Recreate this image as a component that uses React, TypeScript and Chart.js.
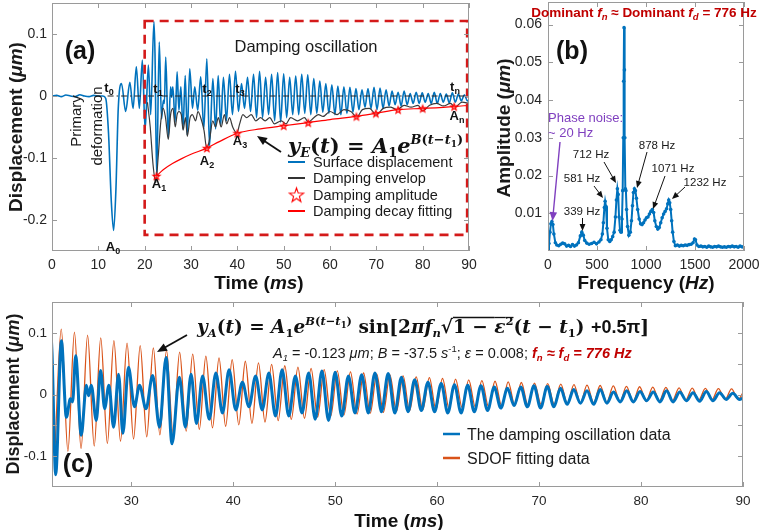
import React, { useEffect, useRef } from 'react';
import { Chart, registerables } from 'chart.js';
Chart.register(...registerables);

// ---------------- Panel (a) data ----------------
const preTime = [0, 1, 2, 3, 4, 5, 6, 7, 8, 9, 10, 11, 11.6, 12.2, 12.8, 13.3, 13.8, 14.3, 15.0, 15.9, 16.8, 17.5, 18.2, 18.85, 19.5];
const preValue = [0, 0.001, -0.001, 0.0015, 0, -0.001, 0.002, 0, -0.001, 0.001, 0, 0, -0.004, -0.06, -0.17, -0.217, -0.15, -0.02, 0.02, -0.025, 0.022, -0.02, 0.047, -0.02, 0.058];

const oscTime = [
  20.1, 20.8, 21.3, 22.0, 22.23, 22.59, 23.15, 23.64, 24.03, 24.25,
  24.55, 25.10, 25.60, 25.82, 26.08, 26.57, 27.00, 27.39, 27.81, 28.27,
  28.76, 29.18, 29.73, 30.32, 30.81, 31.45, 32.10, 32.77, 33.42, 34.00,
  34.72, 35.31, 35.87, 36.40, 37.00, 37.65, 38.30, 38.95, 39.60, 40.25,
  40.90, 41.55, 42.20, 42.85, 43.50, 44.15, 44.80, 45.45, 46.10, 46.75,
  47.40, 48.05, 48.70, 49.35, 50.00, 50.65, 51.30, 51.95, 52.60, 53.25,
  53.90, 54.55, 55.20, 55.85, 56.50, 57.15, 57.80, 58.45, 59.10, 59.75,
  60.40, 61.05, 61.70, 62.35, 63.00, 63.65, 64.30, 64.95, 65.60, 66.25,
  66.90, 67.55, 68.20, 68.85, 69.50, 70.15, 70.80, 71.45, 72.10, 72.75,
  73.40, 74.05, 74.70, 75.35, 76.00, 76.65, 77.30, 77.95, 78.60, 79.25,
  79.90, 80.55, 81.20, 81.85, 82.50, 83.15, 83.80, 84.45, 85.10, 85.75,
  86.40, 87.05, 87.70, 88.35, 89.00, 89.65, 90.00,
];
const oscValue = [
  -0.055, 0.050, -0.030, 0.120, 0.068, -0.130, 0.087, -0.037, -0.007, -0.012,
  0.063, -0.066, 0.015, -0.002, 0.015, -0.042, 0.039, -0.023, 0.015, -0.053,
  0.033, -0.063, 0.044, -0.020, 0.015, -0.023, 0.031, -0.053, 0.060, -0.080,
  0.028, -0.053, 0.033, -0.047, 0.030, -0.040, 0.035, -0.030, 0.040, -0.025,
  0.020, -0.020, 0.030, -0.025, 0.035, -0.035, 0.040, -0.035, 0.030, -0.030,
  0.035, -0.040, 0.038, -0.042, 0.036, -0.035, 0.030, -0.030, 0.032, -0.030,
  0.035, -0.028, 0.034, -0.030, 0.028, -0.028, 0.024, -0.026, 0.020, -0.028,
  0.018, -0.030, 0.016, -0.030, 0.015, -0.028, 0.014, -0.026, 0.012, -0.022,
  0.010, -0.018, 0.012, -0.020, 0.014, -0.022, 0.013, -0.020, 0.010, -0.016,
  0.008, -0.014, 0.006, -0.016, 0.008, -0.014, 0.004, -0.012, 0.006, -0.012,
  0.005, -0.010, 0.004, -0.012, 0.006, -0.012, 0.004, -0.010, 0.003, -0.011,
  0.005, -0.010, 0.003, -0.008, 0.002, -0.008, -0.006,
];

const envTime = [
  20.6, 21.2, 21.8, 22.4, 22.9, 23.5, 24.0, 24.5, 25.1, 25.6,
  26.1, 26.6, 27.0, 27.4, 27.9, 28.3, 28.8, 29.2, 29.8, 30.3,
  31.0, 31.5, 32.1, 32.8, 33.4, 34.0, 34.7, 35.3, 35.9, 36.5,
  37.2, 37.7, 38.3, 39.0, 39.9, 40.5, 41.2, 42.0, 43.0, 44.0,
  45.0, 46.0, 47.0, 48.0, 49.5, 50.5, 51.5, 53.0, 54.5, 55.3,
  56.5, 57.5, 58.5, 60.0, 61.5, 63.0, 64.5, 65.8, 67.0, 68.5,
  70.0, 71.5, 73.0, 74.5, 76.0, 77.5, 79.0, 80.0, 81.5, 83.0,
  84.5, 86.0, 87.0, 88.5, 90.0,
];
const envValue = [
  -0.01, -0.05, -0.11, -0.14, -0.10, -0.04, -0.02, -0.035, -0.07, -0.03,
  -0.02, -0.05, -0.03, -0.025, -0.03, -0.055, -0.035, -0.065, -0.035, -0.03,
  -0.04, -0.025, -0.035, -0.055, -0.085, -0.07, -0.04, -0.05, -0.035, -0.05,
  -0.03, -0.045, -0.035, -0.05, -0.06, -0.045, -0.03, -0.035, -0.03, -0.04,
  -0.035, -0.04, -0.035, -0.045, -0.04, -0.045, -0.035, -0.04, -0.035, -0.042,
  -0.035, -0.03, -0.033, -0.025, -0.03, -0.022, -0.025, -0.034, -0.022, -0.02,
  -0.03, -0.02, -0.018, -0.022, -0.015, -0.018, -0.015, -0.024, -0.015, -0.012,
  -0.016, -0.012, -0.018, -0.01, -0.012,
];

const ampTime = [22.55, 33.4, 40.0, 50.0, 55.3, 65.7, 69.9, 74.7, 80.0, 86.8];
const ampValue = [-0.129, -0.084, -0.060, -0.048, -0.043, -0.033, -0.028, -0.022, -0.020, -0.017];

const fitTime = [22.55, 24, 26, 28, 30, 33.4, 36, 40, 45, 50, 55.3, 60, 65.7, 69.9, 74.7, 80, 86.8, 90];
const fitValue = [-0.129, -0.119, -0.109, -0.101, -0.094, -0.084, -0.074, -0.060, -0.053, -0.048, -0.043, -0.038, -0.033, -0.028, -0.022, -0.020, -0.017, -0.015];

const zeroTime = [12, 90];
const zeroValue = [0, 0];

const regionTime = [20, 89.6];
const regionValue = [-0.224, 0.121];

const aXTicks = [0, 10, 20, 30, 40, 50, 60, 70, 80, 90];
const aXLabels = ['0', '10', '20', '30', '40', '50', '60', '70', '80', '90'];
const aYTicks = [-0.2, -0.1, 0, 0.1];
const aYLabels = ['-0.2', '-0.1', '0', '0.1'];

// ---------------- Panel (b) data ----------------
const freq = [
  0, 10, 20, 30, 40, 50, 60, 75, 90, 110,
  130, 150, 170, 190, 210, 230, 250, 270, 290, 310,
  330, 345, 360, 375, 395, 420, 445, 470, 495, 520,
  540, 555, 565, 575, 583, 592, 602, 615, 630, 645,
  660, 675, 688, 698, 708, 716, 725, 735, 745, 755,
  762, 768, 772, 776, 780, 784, 789, 795, 802, 812,
  825, 840, 852, 862, 872, 882, 892, 902, 915, 930,
  945, 960, 975, 990, 1005, 1020, 1035, 1050, 1065, 1078,
  1090, 1105, 1120, 1135, 1150, 1165, 1180, 1195, 1210, 1222,
  1232, 1242, 1252, 1262, 1272, 1285, 1300, 1320, 1340, 1360,
  1380, 1400, 1420, 1440, 1460, 1480, 1495, 1505, 1520, 1540,
  1560, 1580, 1600, 1620, 1640, 1660, 1680, 1700, 1720, 1740,
  1760, 1780, 1800, 1820, 1840, 1860, 1880, 1900, 1920, 1940,
  1960, 1980, 2000,
];
const amplitude = [
  0.0004, 0.002, 0.005, 0.0072, 0.0078, 0.0070, 0.0045, 0.0022, 0.0016, 0.0014,
  0.0018, 0.0021, 0.0019, 0.0013, 0.0015, 0.0012, 0.0017, 0.0013, 0.0016, 0.0022,
  0.0040, 0.0050, 0.0042, 0.0028, 0.0021, 0.0018, 0.0020, 0.0023, 0.0019, 0.0024,
  0.0030, 0.0045, 0.0075, 0.0115, 0.0132, 0.0118, 0.0060, 0.0030, 0.0025, 0.0030,
  0.0038, 0.0050, 0.0090, 0.0135, 0.0165, 0.0150, 0.0090, 0.0055, 0.0050, 0.0085,
  0.0160, 0.0300, 0.0450, 0.0592, 0.0480, 0.0300, 0.0165, 0.0160, 0.0110, 0.0065,
  0.0042, 0.0050, 0.0080, 0.0120, 0.0155, 0.0165, 0.0160, 0.0140, 0.0110, 0.0085,
  0.0072, 0.0070, 0.0075, 0.0082, 0.0088, 0.0090, 0.0098, 0.0105, 0.0110, 0.0102,
  0.0080, 0.0065, 0.0058, 0.0062, 0.0075, 0.0088, 0.0098, 0.0105, 0.0112, 0.0125,
  0.0135, 0.0128, 0.0110, 0.0080, 0.0050, 0.0025, 0.0014, 0.0016, 0.0013, 0.0015,
  0.0014, 0.0016, 0.0015, 0.0017, 0.0018, 0.0022, 0.0032, 0.0030, 0.0016, 0.0012,
  0.0013, 0.0011, 0.0012, 0.0010, 0.0013, 0.0011, 0.0010, 0.0012, 0.0011, 0.0013,
  0.0011, 0.0010, 0.0011, 0.0010, 0.0012, 0.0011, 0.0013, 0.0011, 0.0012, 0.0010,
  0.0013, 0.0011, 0.0010,
];
const bXTicks = [0, 500, 1000, 1500, 2000];
const bXLabels = ['0', '500', '1000', '1500', '2000'];
const bYTicks = [0.01, 0.02, 0.03, 0.04, 0.05, 0.06];
const bYLabels = ['0.01', '0.02', '0.03', '0.04', '0.05', '0.06'];

// ---------------- Panel (c) data ----------------
const sdofTime = [
  22.50, 23.14, 23.79, 24.43, 25.08, 25.72, 26.37, 27.01, 27.66, 28.30,
  28.95, 29.59, 30.23, 30.88, 31.52, 32.17, 32.81, 33.46, 34.10, 34.75,
  35.39, 36.03, 36.68, 37.32, 37.97, 38.61, 39.26, 39.90, 40.55, 41.19,
  41.84, 42.48, 43.12, 43.77, 44.41, 45.06, 45.70, 46.35, 46.99, 47.64,
  48.28, 48.92, 49.57, 50.21, 50.86, 51.50, 52.15, 52.79, 53.44, 54.08,
  54.73, 55.37, 56.01, 56.66, 57.30, 57.95, 58.59, 59.24, 59.88, 60.53,
  61.17, 61.81, 62.46, 63.10, 63.75, 64.39, 65.04, 65.68, 66.33, 66.97,
  67.62, 68.26, 68.90, 69.55, 70.19, 70.84, 71.48, 72.13, 72.77, 73.42,
  74.06, 74.70, 75.35, 75.99, 76.64, 77.28, 77.93, 78.57, 79.22, 79.86,
  80.51, 81.15, 81.79, 82.44, 83.08, 83.73, 84.37, 85.02, 85.66, 86.31,
  86.95, 87.59, 88.24, 88.88, 89.53, 90.17,
];
const sdofValue = [
  -0.096, 0.106, -0.092, 0.101, -0.0877, 0.0962, -0.0835, 0.0917, -0.0796, 0.0874,
  -0.0758, 0.0832, -0.0722, 0.0793, -0.0688, 0.0756, -0.0656, 0.0720, -0.0625, 0.0686,
  -0.0595, 0.0654, -0.0567, 0.0623, -0.0541, 0.0593, -0.0515, 0.0565, -0.0491, 0.0539,
  -0.0468, 0.0513, -0.0446, 0.0489, -0.0425, 0.0466, -0.0404, 0.0444, -0.0385, 0.0423,
  -0.0367, 0.0403, -0.0350, 0.0384, -0.0333, 0.0366, -0.0318, 0.0349, -0.0303, 0.0332,
  -0.0288, 0.0317, -0.0275, 0.0302, -0.0262, 0.0287, -0.0249, 0.0274, -0.0238, 0.0261,
  -0.0226, 0.0248, -0.0216, 0.0237, -0.0205, 0.0225, -0.0196, 0.0215, -0.0187, 0.0205,
  -0.0178, 0.0195, -0.0169, 0.0186, -0.0161, 0.0177, -0.0154, 0.0169, -0.0147, 0.0161,
  -0.0140, 0.0153, -0.0133, 0.0146, -0.0127, 0.0139, -0.0121, 0.0132, -0.0115, 0.0126,
  -0.0110, 0.0120, -0.0105, 0.0115, -0.0100, 0.0109, -0.0095, 0.0104, -0.0091, 0.0099,
  -0.0086, 0.0095, -0.0082, 0.0090, -0.0078, 0.0086,
];
const cXTicks = [30, 40, 50, 60, 70, 80, 90];
const cXLabels = ['30', '40', '50', '60', '70', '80', '90'];
const cYTicks = [-0.1, -0.05, 0, 0.05, 0.1];
const cYLabels = ['-0.1', '', '0', '', '0.1'];

// ---------------- styling ----------------
const SANS = '"Liberation Sans", Arial, Helvetica, sans-serif';
const SERIF = '"DejaVu Serif", "Liberation Serif", serif';
const BLUE = '#0072BD';
const ORANGE = '#D95319';
const RED = '#FF0000';
const DARKRED = '#C00000';
const FRAME = '#9a9a9a';

const sf = (size: number, style = '') => `${style} ${size}px ${SANS}`.trim();
const rf = (size: number, style = '') => `${style} ${size}px ${SERIF}`.trim();

type Seg = { t: string; f: string; dy?: number; c?: string; over?: number };

function drawRich(ctx: any, segs: Seg[], x: number, baseline: number, align = 'left', color = '#1a1a1a') {
  ctx.save();
  ctx.textBaseline = 'alphabetic';
  ctx.textAlign = 'left';
  const ws = segs.map((s) => { ctx.font = s.f; return ctx.measureText(s.t).width; });
  const total = ws.reduce((a, b) => a + b, 0);
  let cx = align === 'center' ? x - total / 2 : align === 'right' ? x - total : x;
  segs.forEach((s, i) => {
    ctx.font = s.f;
    ctx.fillStyle = s.c || color;
    ctx.fillText(s.t, cx, baseline + (s.dy || 0));
    if (s.over) {
      ctx.strokeStyle = s.c || color;
      ctx.lineWidth = 1.3;
      ctx.beginPath();
      ctx.moveTo(cx, baseline - s.over);
      ctx.lineTo(cx + ws[i], baseline - s.over);
      ctx.stroke();
    }
    cx += ws[i];
  });
  ctx.restore();
}

function drawRotated(ctx: any, segs: Seg[], cx: number, cy: number, shift: number) {
  ctx.save();
  ctx.translate(cx, cy);
  ctx.rotate(-Math.PI / 2);
  drawRich(ctx, segs, 0, shift, 'center');
  ctx.restore();
}

function arrow(ctx: any, x1: number, y1: number, x2: number, y2: number, color: string, lw = 1.3, head = 8) {
  const a = Math.atan2(y2 - y1, x2 - x1);
  ctx.save();
  ctx.strokeStyle = color;
  ctx.fillStyle = color;
  ctx.lineWidth = lw;
  ctx.beginPath();
  ctx.moveTo(x1, y1);
  ctx.lineTo(x2 - Math.cos(a) * head * 0.7, y2 - Math.sin(a) * head * 0.7);
  ctx.stroke();
  const w = head * 0.42;
  ctx.beginPath();
  ctx.moveTo(x2, y2);
  ctx.lineTo(x2 - head * Math.cos(a) + w * Math.sin(a), y2 - head * Math.sin(a) - w * Math.cos(a));
  ctx.lineTo(x2 - head * Math.cos(a) - w * Math.sin(a), y2 - head * Math.sin(a) + w * Math.cos(a));
  ctx.closePath();
  ctx.fill();
  ctx.restore();
}

function frame(chart: any, xt: number[], yt: number[], tick = 5) {
  const { ctx, chartArea: a, scales } = chart;
  ctx.save();
  ctx.strokeStyle = FRAME;
  ctx.lineWidth = 1;
  ctx.strokeRect(a.left + 0.5, a.top + 0.5, a.right - a.left - 1, a.bottom - a.top - 1);
  ctx.beginPath();
  xt.forEach((v) => {
    const p = Math.round(scales.x.getPixelForValue(v)) + 0.5;
    ctx.moveTo(p, a.bottom); ctx.lineTo(p, a.bottom - tick);
    ctx.moveTo(p, a.top); ctx.lineTo(p, a.top + tick);
  });
  yt.forEach((v) => {
    const p = Math.round(scales.y.getPixelForValue(v)) + 0.5;
    ctx.moveTo(a.left, p); ctx.lineTo(a.left + tick, p);
    ctx.moveTo(a.right, p); ctx.lineTo(a.right - tick, p);
  });
  ctx.stroke();
  ctx.restore();
}

function starPath(g: any, cx: number, cy: number, R: number) {
  const r = R * 0.4;
  g.beginPath();
  for (let i = 0; i < 10; i++) {
    const ang = -Math.PI / 2 + (i * Math.PI) / 5;
    const rr = i % 2 ? r : R;
    g.lineTo(cx + rr * Math.cos(ang), cy + rr * Math.sin(ang));
  }
  g.closePath();
}

function makeStar(R: number, fill: string) {
  const c = document.createElement('canvas');
  const s = Math.ceil(R * 2 + 4);
  c.width = s; c.height = s;
  const g = c.getContext('2d')!;
  starPath(g, s / 2, s / 2 + 0.5, R);
  g.fillStyle = fill;
  g.fill();
  g.strokeStyle = RED;
  g.lineWidth = 1.1;
  g.stroke();
  return c;
}

const pts = (xs: number[], ys: number[]) => xs.map((x, i) => ({ x, y: ys[i] }));

function scale(min: number, max: number, ticks: number[], labels: string[], axis: 'x' | 'y', size: number, pad: number, fontSize: number) {
  return {
    type: 'linear',
    min,
    max,
    grid: { display: false, drawTicks: false },
    border: { display: false },
    afterBuildTicks: (s: any) => { s.ticks = ticks.map((v) => ({ value: v })); },
    afterFit: (s: any) => {
      if (axis === 'x') s.height = size; else s.width = size;
      s.paddingTop = 0; s.paddingBottom = 0; s.paddingLeft = 0; s.paddingRight = 0;
    },
    ticks: {
      autoSkip: false,
      maxRotation: 0,
      minRotation: 0,
      padding: pad,
      color: '#262626',
      font: { family: SANS, size: fontSize },
      callback: (v: number) => { const i = ticks.indexOf(v); return i >= 0 ? labels[i] : ''; },
    },
  };
}

const baseOptions = (padding: any, scales: any) => ({
  responsive: false,
  animation: false,
  events: [],
  layout: { padding, autoPadding: false },
  plugins: { legend: { display: false }, tooltip: { enabled: false } },
  elements: { point: { radius: 0 } },
  scales,
});

const titleSegs = (main: string, unit: string, size: number): Seg[] => [
  { t: main + ' (', f: sf(size, 'bold') },
  { t: unit, f: sf(size, 'italic bold') },
  { t: ')', f: sf(size, 'bold') },
];

function subLabel(ctx: any, base: string, sub: string, x: number, y: number) {
  drawRich(ctx, [{ t: base, f: sf(13, 'bold') }, { t: sub, f: sf(9, 'bold'), dy: 3 }], x, y, 'center', '#111');
}

function configA(star: any, starLegend: any) {
  const overlay = {
    id: 'overlayA',
    afterDatasetsDraw(chart: any) {
      const { ctx, scales: { x, y } } = chart;
      ctx.save();
      ctx.strokeStyle = '#D41A1A';
      ctx.lineWidth = 2.6;
      ctx.setLineDash([9, 6]);
      const x0 = x.getPixelForValue(regionTime[0]);
      const x1 = x.getPixelForValue(regionTime[1]);
      const y0 = y.getPixelForValue(regionValue[1]);
      const y1 = y.getPixelForValue(regionValue[0]);
      ctx.strokeRect(x0, y0, x1 - x0, y1 - y0);
      ctx.restore();
    },
    afterDraw(chart: any) {
      const { ctx } = chart;
      frame(chart, aXTicks, aYTicks);
      drawRotated(ctx, titleSegs('Displacement', 'μm', 19), 15, 127, 7);
      drawRich(ctx, titleSegs('Time', 'ms', 19), 259, 289, 'center', '#111');
      drawRich(ctx, [{ t: '(a)', f: sf(25, 'bold') }], 80, 59, 'center', '#111');
      drawRich(ctx, [{ t: 'Damping oscillation', f: sf(16.5) }], 306, 52, 'center', '#1a1a1a');
      subLabel(ctx, 't', '0', 109, 92);
      subLabel(ctx, 't', '1', 158, 93);
      subLabel(ctx, 't', '2', 207, 93);
      subLabel(ctx, 't', '3', 240, 93);
      subLabel(ctx, 't', 'n', 455, 91);
      subLabel(ctx, 'A', '0', 113, 251);
      subLabel(ctx, 'A', '1', 159, 188);
      subLabel(ctx, 'A', '2', 207, 165);
      subLabel(ctx, 'A', '3', 240, 145);
      subLabel(ctx, 'A', 'n', 457, 120);
      drawRotated(ctx, [{ t: 'Primary', f: sf(15) }], 76, 121, 5);
      drawRotated(ctx, [{ t: 'deformation', f: sf(15) }], 97, 126, 5);
      arrow(ctx, 281, 152, 257, 136, '#111', 1.8, 10);
      drawRich(ctx, [
        { t: 'y', f: rf(21, 'italic bold') },
        { t: 'E', f: rf(13, 'italic bold'), dy: 4 },
        { t: '(', f: rf(21, 'bold') },
        { t: 't', f: rf(21, 'italic bold') },
        { t: ') = ', f: rf(21, 'bold') },
        { t: 'A', f: rf(21, 'italic bold') },
        { t: '1', f: rf(13, 'bold'), dy: 4 },
        { t: 'e', f: rf(21, 'italic bold') },
        { t: 'B', f: rf(13, 'italic bold'), dy: -9 },
        { t: '(', f: rf(13, 'bold'), dy: -9 },
        { t: 't', f: rf(13, 'italic bold'), dy: -9 },
        { t: '−', f: rf(13, 'bold'), dy: -9 },
        { t: 't', f: rf(13, 'italic bold'), dy: -9 },
        { t: '1', f: rf(9, 'bold'), dy: -6 },
        { t: ')', f: rf(13, 'bold'), dy: -9 },
      ], 288, 153, 'left', '#111');
      const lx0 = 288, lx1 = 305, tx = 313;
      const ly = [162, 178, 195, 211];
      ctx.save();
      ctx.lineWidth = 2;
      ctx.strokeStyle = BLUE;
      ctx.beginPath(); ctx.moveTo(lx0, ly[0]); ctx.lineTo(lx1, ly[0]); ctx.stroke();
      ctx.strokeStyle = '#333';
      ctx.beginPath(); ctx.moveTo(lx0, ly[1]); ctx.lineTo(lx1, ly[1]); ctx.stroke();
      ctx.strokeStyle = RED;
      ctx.beginPath(); ctx.moveTo(lx0, ly[3]); ctx.lineTo(lx1, ly[3]); ctx.stroke();
      ctx.drawImage(starLegend, (lx0 + lx1) / 2 - starLegend.width / 2, ly[2] - starLegend.height / 2);
      ctx.restore();
      const lt = ['Surface displacement', 'Damping envelop', 'Damping amplitude', 'Damping decay fitting'];
      lt.forEach((s, i) => drawRich(ctx, [{ t: s, f: sf(14.5) }], tx, ly[i] + 5, 'left', '#1a1a1a'));
    },
  };
  return {
    type: 'line',
    data: {
      datasets: [
        { data: pts(zeroTime, zeroValue), borderColor: '#222', borderWidth: 1, borderDash: [6, 3, 1.5, 3], order: 0 },
        { data: pts(ampTime, ampValue), showLine: false, pointStyle: star, pointRadius: 4, order: 1 },
        { data: pts(fitTime, fitValue), borderColor: RED, borderWidth: 1.2, cubicInterpolationMode: 'monotone', order: 2 },
        { data: pts(envTime, envValue), borderColor: '#3a3a3a', borderWidth: 1.2, cubicInterpolationMode: 'monotone', order: 3 },
        { data: pts(preTime.concat(oscTime), preValue.concat(oscValue)), borderColor: BLUE, borderWidth: 1.6, cubicInterpolationMode: 'monotone', order: 4 },
      ],
    },
    options: baseOptions({ left: 0, top: 3, right: 11, bottom: 0 }, {
      x: scale(0, 90, aXTicks, aXLabels, 'x', 49, 6, 14),
      y: scale(-0.25, 0.15, aYTicks, aYLabels, 'y', 52, 5, 14),
    }),
    plugins: [overlay],
  };
}

function configB() {
  const ox = 480;
  const overlay = {
    id: 'overlayB',
    afterDraw(chart: any) {
      const { ctx } = chart;
      frame(chart, bXTicks, bYTicks);
      drawRotated(ctx, titleSegs('Amplitude', 'μm', 19), 503 - ox, 128, 7);
      drawRich(ctx, titleSegs('Frequency', 'Hz', 19), 646 - ox, 289, 'center', '#111');
      drawRich(ctx, [{ t: '(b)', f: sf(25, 'bold') }], 572 - ox, 59, 'center', '#111');
      const B = sf(13.5, 'bold'), BI = sf(13.5, 'italic bold'), BS = sf(9.5, 'italic bold');
      drawRich(ctx, [
        { t: 'Dominant ', f: B }, { t: 'f', f: BI }, { t: 'n', f: BS, dy: 3 },
        { t: ' ≈ Dominant ', f: B }, { t: 'f', f: BI }, { t: 'd', f: BS, dy: 3 },
        { t: ' = 776 Hz', f: B },
      ], 644 - ox, 17, 'center', DARKRED);
      const purple = '#7F3FBF';
      drawRich(ctx, [{ t: 'Phase noise:', f: sf(13) }], 548 - ox, 122, 'left', purple);
      drawRich(ctx, [{ t: '~ 20 Hz', f: sf(13) }], 548 - ox, 137, 'left', purple);
      arrow(ctx, 560 - ox, 142, 552.5 - ox, 221, purple, 1.4, 9);
      const A = sf(11.5);
      drawRich(ctx, [{ t: '339 Hz', f: A }], 582 - ox, 215, 'center');
      arrow(ctx, 582.5 - ox, 218, 582.5 - ox, 231, '#111', 1, 7);
      drawRich(ctx, [{ t: '581 Hz', f: A }], 582 - ox, 182, 'center');
      arrow(ctx, 594 - ox, 186, 603 - ox, 198, '#111', 1, 7);
      drawRich(ctx, [{ t: '712 Hz', f: A }], 591 - ox, 158, 'center');
      arrow(ctx, 604 - ox, 162, 616 - ox, 183, '#111', 1, 7);
      drawRich(ctx, [{ t: '878 Hz', f: A }], 657 - ox, 149, 'center');
      arrow(ctx, 647 - ox, 152, 637 - ox, 188, '#111', 1, 7);
      drawRich(ctx, [{ t: '1071 Hz', f: A }], 673 - ox, 172, 'center');
      arrow(ctx, 665 - ox, 176, 653 - ox, 209, '#111', 1, 7);
      drawRich(ctx, [{ t: '1232 Hz', f: A }], 705 - ox, 186, 'center');
      arrow(ctx, 685 - ox, 187, 672 - ox, 199, '#111', 1, 7);
    },
  };
  return {
    type: 'line',
    data: {
      datasets: [
        {
          data: pts(freq, amplitude), borderColor: BLUE, borderWidth: 2, tension: 0,
          pointRadius: 1.8, pointBackgroundColor: BLUE, pointBorderColor: BLUE, pointBorderWidth: 0,
        },
      ],
    },
    options: baseOptions({ left: 0, top: 2, right: 17, bottom: 0 }, {
      x: scale(0, 2000, bXTicks, bXLabels, 'x', 49, 6, 14),
      y: scale(0, 0.066, bYTicks, bYLabels, 'y', 68, 6, 14),
    }),
    plugins: [overlay],
  };
}

function configC() {
  const oy = 295;
  const overlay = {
    id: 'overlayC',
    afterDraw(chart: any) {
      const { ctx } = chart;
      frame(chart, cXTicks, cYTicks);
      drawRotated(ctx, titleSegs('Displacement', 'μm', 18), 12, 394 - oy, 6.5);
      drawRich(ctx, titleSegs('Time', 'ms', 19), 399, 527 - oy, 'center', '#111');
      drawRich(ctx, [{ t: '(c)', f: sf(25, 'bold') }], 78, 472 - oy, 'center', '#111');
      const M = 18.5, S = 11.5;
      drawRich(ctx, [
        { t: 'y', f: rf(M, 'italic bold') },
        { t: 'A', f: rf(S, 'italic bold'), dy: 4 },
        { t: '(', f: rf(M, 'bold') },
        { t: 't', f: rf(M, 'italic bold') },
        { t: ') = ', f: rf(M, 'bold') },
        { t: 'A', f: rf(M, 'italic bold') },
        { t: '1', f: rf(S, 'bold'), dy: 4 },
        { t: 'e', f: rf(M, 'italic bold') },
        { t: 'B', f: rf(S, 'italic bold'), dy: -8 },
        { t: '(', f: rf(S, 'bold'), dy: -8 },
        { t: 't', f: rf(S, 'italic bold'), dy: -8 },
        { t: '−', f: rf(S, 'bold'), dy: -8 },
        { t: 't', f: rf(S, 'italic bold'), dy: -8 },
        { t: '1', f: rf(8.5, 'bold'), dy: -5 },
        { t: ')', f: rf(S, 'bold'), dy: -8 },
        { t: ' sin[2', f: rf(M, 'bold') },
        { t: 'π', f: rf(M, 'italic bold') },
        { t: 'f', f: rf(M, 'italic bold') },
        { t: 'n', f: rf(S, 'italic bold'), dy: 4 },
        { t: '√', f: rf(M, 'bold') },
        { t: '1 − ', f: rf(M, 'bold'), over: 15.5 },
        { t: 'ε', f: rf(M, 'italic bold'), over: 15.5 },
        { t: '2', f: rf(S, 'bold'), dy: -8, over: 15.5 },
        { t: '(', f: rf(M, 'bold') },
        { t: 't', f: rf(M, 'italic bold') },
        { t: ' − ', f: rf(M, 'bold') },
        { t: 't', f: rf(M, 'italic bold') },
        { t: '1', f: rf(S, 'bold'), dy: 4 },
        { t: ') ', f: rf(M, 'bold') },
        { t: '+0.5π', f: sf(18, 'bold') },
        { t: ']', f: rf(M, 'bold') },
      ], 197, 333 - oy, 'left', '#111');
      arrow(ctx, 187, 335 - oy, 157, 352 - oy, '#111', 1.8, 10);
      const R = sf(14.5), I = sf(14.5, 'italic'), IS = sf(9.5, 'italic'), RS = sf(9.5);
      const RB = sf(14.5, 'italic bold'), RBS = sf(9.5, 'italic bold');
      drawRich(ctx, [
        { t: 'A', f: I }, { t: '1', f: IS, dy: 3 }, { t: ' = -0.123 ', f: R }, { t: 'μm', f: I }, { t: '; ', f: R },
        { t: 'B', f: I }, { t: ' = -37.5 ', f: R }, { t: 's', f: I }, { t: '-1', f: RS, dy: -6 }, { t: '; ', f: R },
        { t: 'ε', f: I }, { t: ' = 0.008; ', f: R },
        { t: 'f', f: RB, c: DARKRED }, { t: 'n', f: RBS, dy: 3, c: DARKRED }, { t: ' ≈ ', f: RB, c: DARKRED },
        { t: 'f', f: RB, c: DARKRED }, { t: 'd', f: RBS, dy: 3, c: DARKRED }, { t: ' = 776 Hz', f: RB, c: DARKRED },
      ], 273, 358 - oy, 'left', '#1a1a1a');
      ctx.save();
      ctx.lineWidth = 2.5;
      ctx.strokeStyle = BLUE;
      ctx.beginPath(); ctx.moveTo(443, 434 - oy); ctx.lineTo(460, 434 - oy); ctx.stroke();
      ctx.strokeStyle = ORANGE;
      ctx.beginPath(); ctx.moveTo(443, 458 - oy); ctx.lineTo(460, 458 - oy); ctx.stroke();
      ctx.restore();
      drawRich(ctx, [{ t: 'The damping oscillation data', f: sf(16) }], 467, 440 - oy, 'left', '#1a1a1a');
      drawRich(ctx, [{ t: 'SDOF fitting data', f: sf(16) }], 467, 464 - oy, 'left', '#1a1a1a');
    },
  };
  return {
    type: 'line',
    data: {
      datasets: [
        { data: pts(oscTime, oscValue), borderColor: BLUE, borderWidth: 3, cubicInterpolationMode: 'monotone', order: 0 },
        { data: pts(sdofTime, sdofValue), borderColor: ORANGE, borderWidth: 1.3, cubicInterpolationMode: 'monotone', order: 1 },
      ],
    },
    options: baseOptions({ left: 0, top: 7, right: 18, bottom: 0 }, {
      x: scale(22.23, 90, cXTicks, cXLabels, 'x', 43, 6, 13.5),
      y: scale(-0.15, 0.15, cYTicks, cYLabels, 'y', 52, 5, 13.5),
    }),
    plugins: [overlay],
  };
}

export default function App() {
  const ra = useRef<HTMLCanvasElement>(null);
  const rb = useRef<HTMLCanvasElement>(null);
  const rc = useRef<HTMLCanvasElement>(null);
  useEffect(() => {
    const star = makeStar(3.6, 'rgba(255,130,130,0.55)');
    const starLegend = makeStar(7.5, '#ffffff');
    const charts = [
      new Chart(ra.current as any, configA(star, starLegend) as any),
      new Chart(rb.current as any, configB() as any),
      new Chart(rc.current as any, configC() as any),
    ];
    return () => charts.forEach((c) => c.destroy());
  }, []);
  const abs = (l: number, t: number, w: number, h: number) => ({ position: 'absolute' as const, left: l, top: t, width: w, height: h });
  return (
    <div style={{ position: 'absolute', left: 0, top: 0, width: 761, height: 530, background: '#fff', overflow: 'hidden' }}>
      <canvas ref={ra} width={480} height={300} style={abs(0, 0, 480, 300)} />
      <canvas ref={rb} width={281} height={300} style={abs(480, 0, 281, 300)} />
      <canvas ref={rc} width={761} height={235} style={abs(0, 295, 761, 235)} />
    </div>
  );
}
